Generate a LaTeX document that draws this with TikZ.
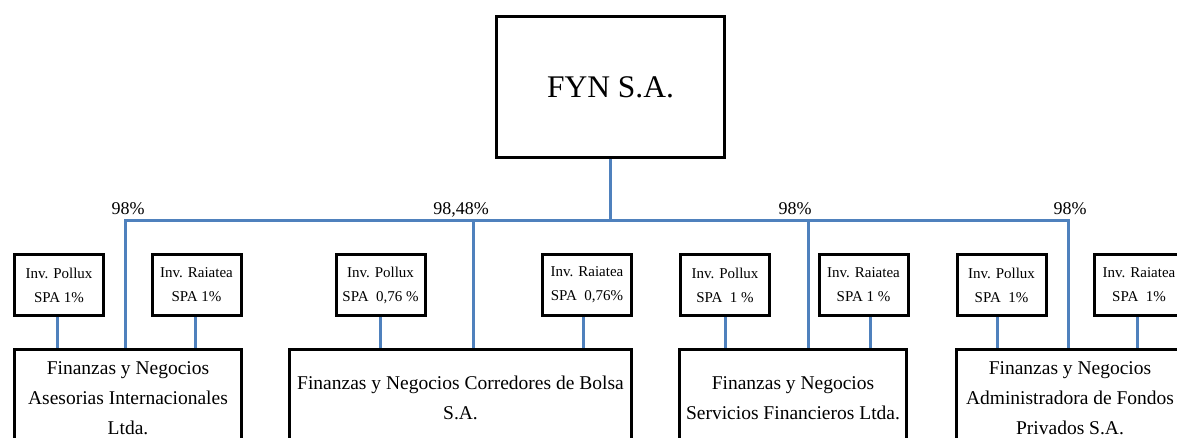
\documentclass[tikz,border=0pt]{standalone}
\usepackage{fontspec}
\setmainfont{Liberation Serif}
\usetikzlibrary{backgrounds}

\definecolor{enlaceazul}{RGB}{79,129,189}

\tikzset{
  caja/.style={draw=black, line width=3pt, rectangle, align=center, inner sep=0pt},
  inversion/.style={caja, minimum width=89pt, minimum height=61pt, font=\fontsize{15}{24}\selectfont},
  filial/.style={caja, minimum width=227pt, minimum height=97pt, font=\fontsize{19.5}{30}\selectfont},
  enlace/.style={draw=enlaceazul, line width=3pt},
  porcentaje/.style={anchor=base, inner sep=0pt, font=\fontsize{18}{22}\selectfont}
}

\begin{document}
\begin{tikzpicture}[x=1pt,y=-1pt]
%\draw [lightgray](0,0) grid [step=50pt] (1177,438);
\useasboundingbox (0,0) rectangle (1177,438);
\clip (0,0) rectangle (1177,438);

\node[caja, minimum width=228pt, minimum height=141pt, font=\fontsize{31.5}{36}\selectfont] (fyn) at (610.5,87) {FYN S.A.};

\coordinate (b1) at (125,221);
\coordinate (b2) at (473,221);
\coordinate (b3) at (808,221);
\coordinate (b4) at (1068,221);

\node[porcentaje] (p1) at (128,215) {98\%};
\node[porcentaje] (p2) at (461,215) {98,48\%};
\node[porcentaje] (p3) at (795,215) {98\%};
\node[porcentaje] (p4) at (1070,215) {98\%};

% sociedades filiales
\node[filial] (f1) at (128,398) {Finanzas y Negocios\\Asesorias Internacionales\\Ltda.};
\node[filial, minimum width=342pt] (f2) at (460.5,398) {Finanzas y Negocios Corredores de Bolsa\\S.A.};
\node[filial] (f3) at (793,398) {Finanzas y Negocios\\Servicios Financieros Ltda.};
\node[filial] (f4) at (1070,398) {Finanzas y Negocios\\Administradora de Fondos\\Privados S.A.};

% Pollux y Raiatea
\node[inversion] (i1) at (59,285) {Inv. Pollux\\SPA 1\%};
\node[inversion] (i2) at (196.5,285) {Inv. Raiatea\\SPA 1\%};
\node[inversion] (i3) at (380.5,285) {Inv. Pollux\\SPA\ \ 0,76 \%};
\node[inversion] (i4) at (587,285) {Inv. Raiatea\\SPA\ \ 0,76\%};
\node[inversion] (i5) at (725,285) {Inv. Pollux\\SPA\ \ 1 \%};
\node[inversion] (i6) at (863.5,285) {Inv. Raiatea\\SPA 1 \%};
\node[inversion] (i7) at (1001.5,285) {Inv. Pollux\\SPA\ \ 1\%};
\node[inversion] (i8) at (1139,285) {Inv. Raiatea\\SPA\ \ 1\%};

\begin{scope}[on background layer]
\draw[enlace] (fyn.south) -- (fyn.south |- b1);
\draw[enlace] (b1 |- f1.north) -- (b1) -- (b4) -- (b4 |- f4.north);
\draw[enlace] (b2) -- (b2 |- f2.north);
\draw[enlace] (b3) -- (b3 |- f3.north);
\foreach \i/\f/\dx in {1/1/-2, 2/1/-1.5, 3/2/0, 4/2/-4, 5/3/0, 6/3/6.5, 7/4/-4.5, 8/4/-2}
  \draw[enlace] ([xshift=\dx pt]i\i.south) -- ([xshift=\dx pt]i\i.south |- f\f.north);
\end{scope}

\end{tikzpicture}
\end{document}
